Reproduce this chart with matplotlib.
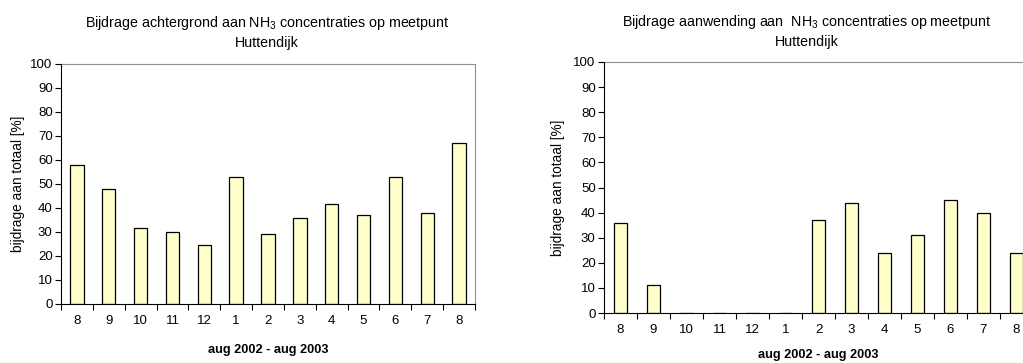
import numpy as np
from matplotlib import pyplot as plt

plt.rcParams['font.family'] = ['Liberation Sans', 'DejaVu Sans']
plt.rcParams['mathtext.fontset'] = 'custom'
plt.rcParams['mathtext.rm'] = 'Liberation Sans'

maanden = ['8', '9', '10', '11', '12', '1', '2', '3', '4', '5', '6', '7', '8']
achtergrond = [58, 48, 31.5, 30, 24.5, 53, 29, 36, 41.5, 37, 53, 38, 67]
aanwending = [36, 11, 0, 0, 0, 0, 37, 44, 24, 31, 45, 40, 24]

titel_links = 'Bijdrage achtergrond aan NH$_3$ concentraties op meetpunt\nHuttendijk'
titel_rechts = 'Bijdrage aanwending aan  NH$_3$ concentraties op meetpunt\nHuttendijk'
y_label = 'bijdrage aan totaal [%]'
x_label = 'aug 2002 - aug 2003'

W, H = 1023, 363
fig = plt.figure(figsize=(W / 100, H / 100), dpi=100)


def teken(pos, waarden, titel, titel_x, titel_y, ylab_x, xlab_x, xlab_y):
    ax = fig.add_axes(pos)
    x = np.arange(len(waarden))
    ax.bar(x, waarden, width=0.42, color='#FFFFCC', edgecolor='black', linewidth=0.9, zorder=2)
    ax.set_xlim(-0.5, len(waarden) - 0.5)
    ax.set_ylim(0, 100)
    ax.set_yticks(np.arange(0, 101, 10))
    ax.tick_params(axis='y', direction='out', length=4, width=0.8, labelsize=9.5, pad=2)
    # streepjes tussen de maanden, labels in het midden
    ax.set_xticks(np.arange(len(waarden) + 1) - 0.5)
    ax.set_xticklabels([])
    ax.tick_params(axis='x', which='major', direction='out', length=4, width=0.8)
    ax.set_xticks(x, minor=True)
    ax.set_xticklabels(maanden, minor=True)
    ax.tick_params(axis='x', which='minor', length=0, labelsize=9.5, pad=8)
    for s in ['top', 'right']:
        ax.spines[s].set_color('#909090')
    for s in ['left', 'bottom']:
        ax.spines[s].set_color('black')
        ax.spines[s].set_zorder(3)
    fig.text(titel_x / W, 1 - titel_y / H, titel, ha='center', va='center', fontsize=10.3, linespacing=1.45)
    fig.text(ylab_x / W, pos[1] + pos[3] / 2, y_label, rotation=90, ha='center', va='center', fontsize=9.8)
    fig.text(xlab_x / W, 1 - xlab_y / H, x_label, ha='center', va='center', fontsize=9.2, fontweight='bold')
    return ax


teken([61 / W, 59 / H, 414 / W, 240 / H], achtergrond, titel_links, 267, 32, 18, 268, 350)
teken([604 / W, 50 / H, 429 / W, 251 / H], aanwending, titel_rechts, 807, 31, 558, 818, 355)

fig.savefig('out.png', dpi=100)
